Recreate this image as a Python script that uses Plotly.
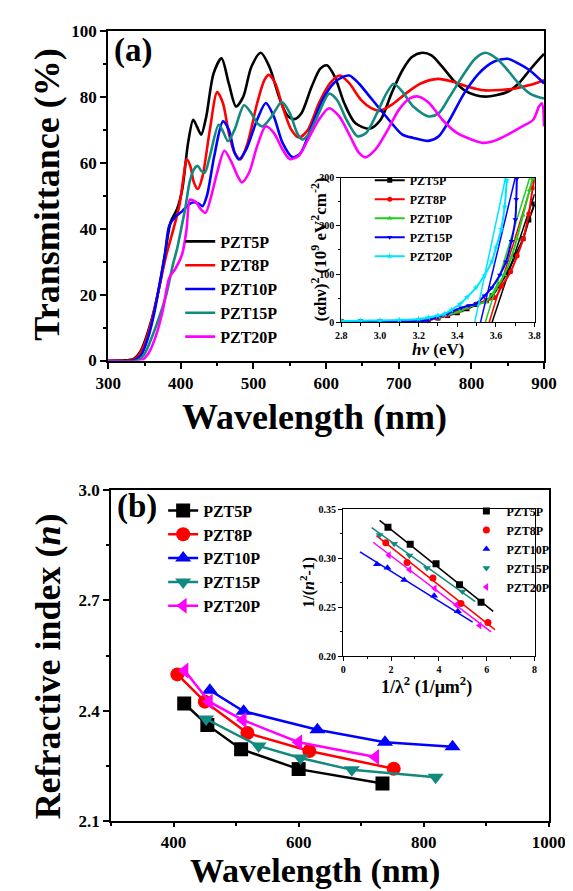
import plotly.graph_objects as go

# ---------------- Panel (a): transmittance ----------------
wl_5 = [300, 320, 335, 345, 358, 370, 378, 386, 395, 402, 410, 417, 422, 428, 435, 445, 456, 466, 476, 486, 497, 510, 522, 535, 546, 556, 566, 580, 592, 601, 612, 625, 640, 660, 675, 690, 705, 718, 732, 745, 760, 775, 790, 805, 819, 835, 850, 865, 880, 895, 900]
T_5 = [0, 0, 0.5, 3, 11, 22, 32, 42, 46, 52, 66, 73, 71, 68.5, 74, 87, 91.6, 84, 77, 80, 89, 93.3, 89, 80, 74.5, 73.2, 75, 83, 88.5, 89.5, 86, 78, 72, 70.3, 73, 81, 88, 92, 93.3, 92.5, 89, 85, 82, 80.5, 80, 80.5, 81.5, 84, 88, 91.8, 93]

wl_8 = [300, 330, 340, 350, 362, 372, 380, 390, 398, 404, 408, 413, 418, 423.5, 430, 440, 450, 458, 466, 474, 482, 492, 505, 515, 521, 530, 540, 552, 562.5, 575, 590, 605, 619, 632, 648, 662, 673.5, 690, 710, 730, 754, 775, 795, 819, 840, 860, 880, 900]
T_8 = [0, 0, 1, 5, 14, 24, 32, 40, 47, 56, 61, 59, 54, 52, 56, 70, 81.4, 78, 69, 63, 61, 66, 78, 85, 86.6, 84, 77, 70, 67.6, 70, 78, 84, 86.4, 84, 79, 76.5, 75.7, 77.5, 81, 84, 85.4, 84.5, 83, 81.9, 82, 82.5, 83.5, 85]

wl_10 = [300, 335, 345, 355, 363, 371, 378, 384, 392, 402, 412, 419, 425, 430, 436, 446, 458, 466, 474, 480, 490, 505, 517, 528, 540, 554, 565, 580, 595, 610, 623, 632, 645, 660, 675, 690, 705, 720, 741, 755, 770, 790, 810, 830, 850, 865, 880, 900]
T_10 = [0, 0, 1.5, 7, 14, 23.5, 32, 40.9, 43.5, 45.3, 47.5, 48, 47.5, 46.8, 50, 62, 72.5, 70, 63, 61, 64, 73, 78.1, 74, 66, 61.6, 63, 71, 79, 84, 86, 86.4, 84, 80, 76, 72, 68.5, 67.5, 66.6, 68, 73, 81, 87, 90.5, 91.5, 90, 88, 84]

wl_15 = [300, 340, 350, 360, 370, 380, 389, 395, 400, 406, 412, 418, 423.5, 428, 433, 440, 452, 458, 465, 474, 487, 497, 505, 512.6, 525, 539, 550, 560, 567, 577, 590, 604, 615, 628, 643, 655, 670, 683, 693, 705, 720, 741, 755, 770, 790, 805, 819, 835, 850, 865, 880, 897, 900]
T_15 = [0, 0, 2, 7, 13, 20, 29, 34, 39.4, 46, 54, 58, 59, 57.5, 57, 62, 71.5, 69.5, 66.5, 70, 77.4, 75, 72, 71, 74, 78.4, 75, 69, 67, 69, 75, 80.9, 79, 73, 68, 69, 75, 81, 83.9, 81.5, 77, 74, 75, 80, 87, 91.5, 93.3, 91.5, 88, 84, 81, 79.6, 79.5]

wl_20 = [300, 345, 355, 365, 375, 384, 393, 402, 408, 412.5, 417, 421, 427, 434, 442, 450, 460, 470, 478, 484, 494, 505, 517, 528, 540, 550, 562, 575, 590, 604, 618, 633, 645, 654, 668, 685, 700, 715, 728, 742, 760, 780, 800, 815, 830, 850, 870, 885, 893, 897, 900]
T_20 = [0, 0, 2, 7, 15, 25, 28, 32.4, 40, 48.8, 48.5, 48, 46, 44.8, 50, 57, 63.6, 60, 56, 54, 57, 65, 71, 69, 64, 61.1, 62, 67, 73, 76.5, 74, 68, 63, 61.6, 64, 70, 76, 79.5, 80, 78, 73, 69, 67, 66, 66.5, 68.5, 71, 73, 77, 78, 71]

# ---------------- Inset (a): Tauc plot ----------------
E_5 = [2.80, 2.90, 3.00, 3.10, 3.20, 3.25, 3.30, 3.35, 3.40, 3.45, 3.50, 3.55, 3.58, 3.62, 3.66, 3.70, 3.74, 3.77, 3.80]
A_5 = [1, 1, 1.5, 2, 3, 5, 9, 14, 20, 28, 37, 44.6, 55, 78, 105, 138, 173, 212, 245]
E_8 = [2.80, 2.90, 3.00, 3.10, 3.20, 3.25, 3.30, 3.35, 3.40, 3.45, 3.50, 3.55, 3.594, 3.63, 3.676, 3.71, 3.741, 3.77, 3.79, 3.80]
A_8 = [1, 1, 1.5, 2, 3, 5, 9, 15, 22, 30, 38, 45, 51, 75, 105, 138, 173, 225, 278, 295]
E_10 = [2.80, 2.90, 3.00, 3.10, 3.20, 3.25, 3.30, 3.35, 3.414, 3.45, 3.50, 3.545, 3.60, 3.643, 3.68, 3.708, 3.74, 3.774, 3.79]
A_10 = [1, 1, 1.5, 2, 3, 6, 10, 16, 23, 30, 37, 42.6, 70, 98.7, 135, 173, 222, 274, 298]
E_15 = [2.80, 2.90, 3.00, 3.10, 3.20, 3.25, 3.30, 3.35, 3.38, 3.42, 3.46, 3.496, 3.54, 3.578, 3.62, 3.652, 3.68, 3.70, 3.705, 3.708]
A_15 = [1, 1, 1.5, 2, 2, 5, 11, 18, 24, 30, 35, 38, 55, 71.6, 98, 125.7, 168, 213, 255, 298]
E_20 = [2.80, 2.90, 3.00, 3.10, 3.20, 3.25, 3.30, 3.333, 3.37, 3.414, 3.45, 3.496, 3.54, 3.578, 3.60, 3.627, 3.645, 3.656]
A_20 = [3, 3.5, 4, 5, 7, 10, 14, 17.6, 26, 37.8, 52, 71.6, 97, 125.7, 155, 193, 240, 294]

# extrapolated linear fits (start at band-gap intercept)
fitE_5, fitA_5 = [3.58, 3.80], [0, 266]
fitE_8, fitA_8 = [3.565, 3.795], [0, 300]
fitE_10, fitA_10 = [3.545, 3.775], [0, 300]
fitE_15, fitA_15 = [3.52, 3.70], [0, 300]
fitE_20, fitA_20 = [3.49, 3.65], [0, 300]

# ---------------- Panel (b): refractive index ----------------
lam_5, n_5 = [417, 454, 508, 600, 734], [2.42, 2.362, 2.296, 2.242, 2.203]
lam_8, n_8 = [406, 450, 518, 617, 752], [2.499, 2.425, 2.34, 2.291, 2.243]
lam_10, n_10 = [458, 512, 630, 738, 846], [2.456, 2.399, 2.349, 2.315, 2.303]
lam_15, n_15 = [452, 536, 603, 685, 819], [2.378, 2.305, 2.272, 2.24, 2.22]
lam_20, n_20 = [418, 457, 511, 600, 723], [2.509, 2.425, 2.375, 2.315, 2.275]

# ---------------- Inset (b): 1/(n^2-1) vs 1/lambda^2 ----------------
il_5, iy_5 = [1.87, 2.80, 3.88, 4.86, 5.76], [0.3317, 0.3143, 0.2943, 0.273, 0.255]
il_8, iy_8 = [1.78, 2.67, 3.75, 4.92, 6.05], [0.3157, 0.2957, 0.2797, 0.2537, 0.2343]
il_10, iy_10 = [1.41, 1.85, 2.55, 3.80, 4.79], [0.2937, 0.2903, 0.2777, 0.2617, 0.2457]
il_15, iy_15 = [1.52, 2.13, 2.77, 3.50, 4.98], [0.3237, 0.3147, 0.3027, 0.29, 0.266]
il_20, iy_20 = [1.91, 2.77, 3.83, 4.73, 5.70], [0.303, 0.2883, 0.269, 0.2523, 0.2313]
ifx_5, ify_5 = [1.52, 6.27], [0.3387, 0.2457]
ifx_8, ify_8 = [1.39, 6.34], [0.323, 0.227]
ifx_10, ify_10 = [0.70, 5.41], [0.3065, 0.2347]
ifx_15, ify_15 = [1.19, 5.52], [0.3313, 0.2557]
ifx_20, ify_20 = [1.25, 6.18], [0.3163, 0.2247]

names = ["PZT5P", "PZT8P", "PZT10P", "PZT15P", "PZT20P"]
col_main = ["#000000", "#ff0000", "#0000ff", "#138a80", "#ff00ff"]
col_tauc = ["#000000", "#ff0000", "#22cc22", "#0000ff", "#00e5ff"]
sym_tauc = ["square", "circle", "triangle-up", "triangle-down", "star"]
sym_b = ["square", "circle", "triangle-up", "triangle-down", "triangle-left"]

FONT = "Liberation Serif, Times New Roman, serif"
W, H = 573, 891


def px(x):
    return x / W


def py(y):
    return 1 - y / H


fig = go.Figure()

# panel (a)
for nm, c, xs, ys in zip(names, col_main, [wl_5, wl_8, wl_10, wl_15, wl_20], [T_5, T_8, T_10, T_15, T_20]):
    fig.add_trace(go.Scatter(x=xs, y=ys, mode="lines", name=nm, line=dict(color=c, width=2.6, shape="spline", smoothing=0.8),
                             xaxis="x", yaxis="y", legend="legend"))

# inset (a)
for nm, c, s, xs, ys, fx, fy in zip(names, col_tauc, sym_tauc,
                                    [E_5, E_8, E_10, E_15, E_20], [A_5, A_8, A_10, A_15, A_20],
                                    [fitE_5, fitE_8, fitE_10, fitE_15, fitE_20], [fitA_5, fitA_8, fitA_10, fitA_15, fitA_20]):
    fig.add_trace(go.Scatter(x=fx, y=fy, mode="lines", showlegend=False, line=dict(color=c, width=1.5),
                             xaxis="x2", yaxis="y2", cliponaxis=True))
    fig.add_trace(go.Scatter(x=xs, y=ys, mode="lines+markers", name=nm, line=dict(color=c, width=2, shape="spline"),
                             marker=dict(symbol=s, size=5, color=c), xaxis="x2", yaxis="y2", legend="legend2"))

# panel (b)
for nm, c, s, xs, ys in zip(names, col_main, sym_b, [lam_5, lam_8, lam_10, lam_15, lam_20], [n_5, n_8, n_10, n_15, n_20]):
    fig.add_trace(go.Scatter(x=xs, y=ys, mode="lines+markers", name=nm, line=dict(color=c, width=2.5),
                             marker=dict(symbol=s, size=14, color=c), xaxis="x3", yaxis="y3", legend="legend3"))

# inset (b)
for nm, c, s, xs, ys, fx, fy in zip(names, col_main, sym_b,
                                    [il_5, il_8, il_10, il_15, il_20], [iy_5, iy_8, iy_10, iy_15, iy_20],
                                    [ifx_5, ifx_8, ifx_10, ifx_15, ifx_20], [ify_5, ify_8, ify_10, ify_15, ify_20]):
    fig.add_trace(go.Scatter(x=fx, y=fy, mode="lines", showlegend=False, line=dict(color=c, width=1.5),
                             xaxis="x4", yaxis="y4"))
    fig.add_trace(go.Scatter(x=xs, y=ys, mode="markers", name=nm, marker=dict(symbol=s, size=7, color=c),
                             xaxis="x4", yaxis="y4", legend="legend4"))


def ax(dom, rng, dtick, minor, size, lw=2, tick0=None, fmt=None, anchor=None, tl=6):
    d = dict(domain=dom, range=rng, dtick=dtick, showline=True, linewidth=lw, linecolor="black", mirror=True,
             ticks="outside", ticklen=tl, tickwidth=lw, tickcolor="black", showgrid=False, zeroline=False,
             tickfont=dict(family=FONT, size=size, color="black", weight="bold"),
             minor=dict(ticks="outside", dtick=minor, ticklen=tl * 0.55, tickwidth=lw * 0.75, tickcolor="black"),
             anchor=anchor)
    if tick0 is not None:
        d["tick0"] = tick0
    if fmt:
        d["tickformat"] = fmt
    return d


fig.update_layout(
    width=W, height=H, margin=dict(l=0, r=0, t=0, b=0), paper_bgcolor="white", plot_bgcolor="rgba(0,0,0,0)",
    font=dict(family=FONT, color="black"),
    xaxis=ax([px(92), px(552)], [300, 900], 100, 50, 17, anchor="y"),
    yaxis=ax([py(351), py(14)], [0, 100], 20, 10, 17, anchor="x"),
    xaxis2=ax([px(338), px(542)], [2.8, 3.8], 0.2, 0.1, 10, lw=1.3, fmt=".1f", anchor="y2", tl=4),
    yaxis2=ax([py(312), py(164)], [0, 300], 100, 50, 10, lw=1.3, anchor="x2", tl=4),
    xaxis3=ax([px(95), px(557)], [300, 1000], 200, 100, 17, tick0=0, anchor="y3", tl=4),
    yaxis3=ax([py(822), py(483)], [2.1, 3.0], 0.3, 0.15, 17, tick0=2.1, fmt=".1f", anchor="x3"),
    xaxis4=ax([px(340), px(542)], [0, 8], 2, 1, 10, lw=1.3, anchor="y4", tl=4),
    yaxis4=ax([py(653), py(503)], [0.20, 0.35], 0.05, 0.025, 10, lw=1.3, tick0=0.2, fmt=".2f", anchor="x4", tl=4),
    legend=dict(x=px(168), y=py(212), xanchor="left", yanchor="top", bgcolor="rgba(0,0,0,0)",
                font=dict(family=FONT, size=16, color="black", weight="bold")),
    legend2=dict(x=px(368), y=py(152), xanchor="left", yanchor="top", bgcolor="rgba(0,0,0,0)",
                 font=dict(family=FONT, size=12, color="black", weight="bold")),
    legend3=dict(x=px(150), y=py(487), xanchor="left", yanchor="top", bgcolor="rgba(0,0,0,0)",
                 font=dict(family=FONT, size=16, color="black", weight="bold")),
    legend4=dict(x=px(470), y=py(490), xanchor="left", yanchor="top", bgcolor="rgba(0,0,0,0)",
                 font=dict(family=FONT, size=12, color="black", weight="bold")),
)


def ann(text, x, y, size, angle=0):
    fig.add_annotation(text=text, x=px(x), y=py(y), xref="paper", yref="paper", showarrow=False,
                       xanchor="center", yanchor="middle", textangle=angle,
                       font=dict(family=FONT, size=size, color="black", weight="bold"))


ann("(a)", 118, 34, 33)
ann("(b)", 122, 500, 33)
ann("Transmittance (%)", 28, 182, 36, -90)
ann("Wavelength (nm)", 310, 409, 36)
ann("Refractive index (<i>n</i>)", 28, 664, 36, -90)
ann("Wavelength (nm)", 310, 873, 34)
ann("(αhν)<sup>2</sup> (10<sup>9</sup> eV<sup>2</sup>cm<sup>-2</sup>)", 314, 238, 17, -90)
ann("<i>hν</i> (eV)", 440, 340, 17)
ann("1/(<i>n</i><sup>2</sup>-1)", 303, 578, 16, -90)
ann("1/λ<sup>2</sup> (1/μm<sup>2</sup>)", 428, 684, 18)

fig.write_html("out.html")
